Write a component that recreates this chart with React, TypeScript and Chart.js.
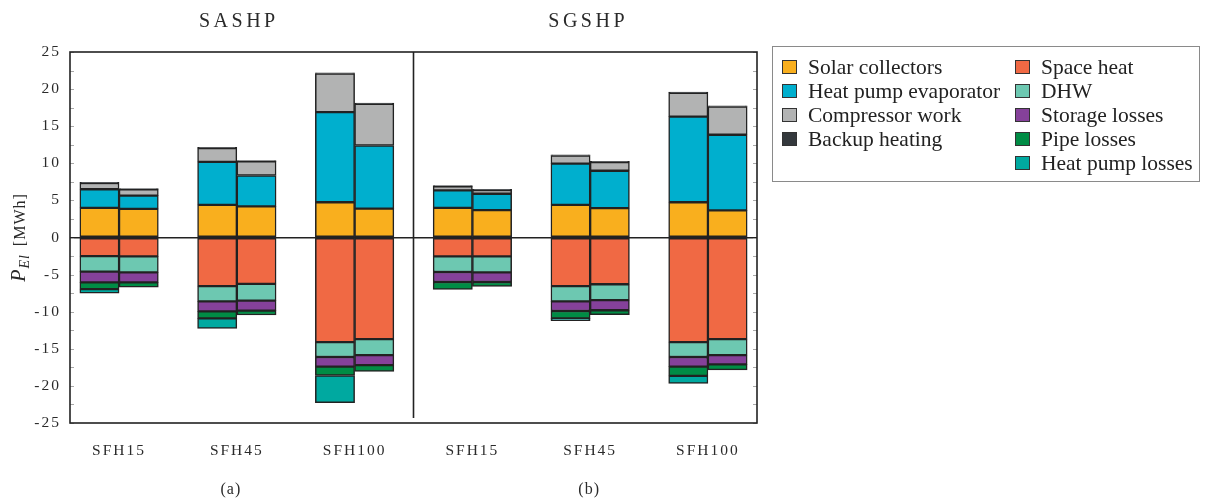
import React, { useEffect, useRef } from 'react';
import { Chart, registerables } from 'chart.js';

Chart.register(...registerables);

// ---------- data ----------
const groupLabels = ['SFH15', 'SFH45', 'SFH100', 'SFH15', 'SFH45', 'SFH100'];
const panelTitles = ['SASHP', 'SGSHP'];
const panelLabels = ['(a)', '(b)'];
// x slot of every bar (two bars per building, one empty slot between buildings)
const barSlots = [0, 1, 3, 4, 6, 7, 9, 10, 12, 13, 15, 16];
const groupCenters = [0.5, 3.5, 6.5, 9.5, 12.5, 15.5];
const dividerSlot = 8;
const xMin = -0.75;
const xMax = 16.75;
const yTickMin = -25;
const yTickMax = 25;
const yTickStep = 5;

// positive side (energy supplied), MWh
const solarCollectors = [4.0, 3.85, 4.4, 4.2, 4.75, 3.9, 4.0, 3.7, 4.4, 3.95, 4.75, 3.65];
const heatPumpEvaporator = [2.5, 1.8, 5.8, 4.15, 12.15, 8.5, 2.35, 2.2, 5.55, 5.05, 11.55, 10.2];
const compressorWork = [0.85, 0.85, 1.85, 1.9, 5.2, 5.6, 0.55, 0.5, 1.1, 1.15, 3.2, 3.8];
const backupHeating = [0.1, 0.1, 0.1, 0.1, 0.1, 0.1, 0.1, 0.1, 0.1, 0.1, 0.1, 0.1];
// negative side (energy demand / losses), MWh
const spaceHeat = [-2.5, -2.55, -6.55, -6.25, -14.1, -13.7, -2.55, -2.55, -6.55, -6.3, -14.1, -13.7];
const dhw = [-2.1, -2.15, -2.05, -2.25, -2.0, -2.15, -2.1, -2.15, -2.05, -2.15, -2.0, -2.15];
const storageLosses = [-1.45, -1.35, -1.35, -1.35, -1.3, -1.35, -1.35, -1.3, -1.3, -1.35, -1.3, -1.25];
const pipeLosses = [-0.9, -0.65, -0.95, -0.6, -1.2, -0.85, -1.0, -0.6, -1.0, -0.6, -1.25, -0.75];
const heatPumpLosses = [-0.55, null, -1.35, null, -3.65, null, null, null, -0.3, null, -1.0, null];

const seriesNames = [
  'Solar collectors', 'Heat pump evaporator', 'Compressor work', 'Backup heating',
  'Space heat', 'DHW', 'Storage losses', 'Pipe losses', 'Heat pump losses',
];
const seriesValues = [
  solarCollectors, heatPumpEvaporator, compressorWork, backupHeating,
  spaceHeat, dhw, storageLosses, pipeLosses, heatPumpLosses,
];
const seriesColors = [
  '#F9AF1E', '#00AFCE', '#B2B3B3', '#34393D',
  '#F06944', '#6DC8B1', '#85419A', '#008C45', '#00A9A0',
];
const legendColumns = [[0, 1, 2, 3], [4, 5, 6, 7, 8]];

const SERIF = '"Liberation Serif", "DejaVu Serif", serif';

const decorPlugin = {
  id: 'decor',
  beforeDraw(chart: any) {
    chart.ctx.letterSpacing = '2px';
  },
  beforeDatasetsDraw(chart: any) {
    chart.ctx.letterSpacing = '0px';
  },
  afterDraw(chart: any) {
    const { ctx, chartArea: a, scales } = chart;
    const x = scales.x;
    const y = scales.y;
    ctx.save();
    // minor ticks inside left and right borders
    ctx.strokeStyle = '#a8a8a8';
    ctx.lineWidth = 1;
    for (let v = yTickMin; v <= yTickMax; v += yTickStep / 2) {
      const py = Math.round(y.getPixelForValue(v)) + 0.5;
      ctx.beginPath();
      ctx.moveTo(a.left, py);
      ctx.lineTo(a.left + 4, py);
      ctx.moveTo(a.right - 4, py);
      ctx.lineTo(a.right, py);
      ctx.stroke();
    }
    // frame
    ctx.strokeStyle = '#222';
    ctx.lineWidth = 1.6;
    ctx.strokeRect(a.left, a.top, a.right - a.left, a.bottom - a.top);
    // divider between panels
    const dx = x.getPixelForValue(dividerSlot);
    ctx.beginPath();
    ctx.moveTo(dx, a.top);
    ctx.lineTo(dx, a.bottom - 5);
    ctx.stroke();

    // panel titles and sub-labels
    ctx.fillStyle = '#2a2a2a';
    ctx.textAlign = 'center';
    ctx.textBaseline = 'middle';
    ctx.letterSpacing = '3.5px';
    ctx.font = `20px ${SERIF}`;
    ctx.fillText(panelTitles[0], x.getPixelForValue(groupCenters[1]) + 2, 22);
    ctx.fillText(panelTitles[1], x.getPixelForValue(groupCenters[4]) - 2, 22);
    ctx.letterSpacing = '1px';
    ctx.font = `16px ${SERIF}`;
    ctx.fillText(panelLabels[0], x.getPixelForValue(groupCenters[1]) - 6, 490);
    ctx.fillText(panelLabels[1], x.getPixelForValue(groupCenters[4]) - 1, 490);
    ctx.letterSpacing = '0px';

    // y-axis title: P_El [MWh]
    const cy = y.getPixelForValue(0);
    ctx.translate(19, cy);
    ctx.rotate(-Math.PI / 2);
    ctx.textAlign = 'left';
    ctx.textBaseline = 'alphabetic';
    const fP = `italic 20px ${SERIF}`;
    const fSub = `italic 14px ${SERIF}`;
    const fUnit = `16px ${SERIF}`;
    ctx.letterSpacing = '1px';
    ctx.font = fP; const wP = ctx.measureText('P').width;
    ctx.font = fSub; const wS = ctx.measureText('El').width;
    ctx.font = fUnit; const wU = ctx.measureText('[MWh]').width;
    const gap = 8;
    const total = wP + wS + gap + wU;
    let cx = -total / 2;
    const base = 6;
    ctx.font = fP; ctx.fillText('P', cx, base); cx += wP;
    ctx.font = fSub; ctx.fillText('El', cx, base + 4); cx += wS + gap;
    ctx.font = fUnit; ctx.fillText('[MWh]', cx, base);
    ctx.restore();
  },
};

export default function App() {
  const canvasRef = useRef<HTMLCanvasElement | null>(null);

  useEffect(() => {
    if (!canvasRef.current) return;
    const datasets = seriesNames.map((name, si) => ({
      label: name,
      data: barSlots.map((slot, i) => ({ x: slot, y: seriesValues[si][i] })),
      backgroundColor: seriesColors[si],
      borderColor: '#222',
      borderWidth: 1.5,
      borderSkipped: false,
      barPercentage: 1,
      categoryPercentage: 1,
    }));

    const chart = new Chart(canvasRef.current, {
      type: 'bar',
      data: { datasets },
      plugins: [decorPlugin],
      options: {
        responsive: false,
        animation: false,
        devicePixelRatio: 1,
        layout: { padding: { left: 0, top: 52, right: 448, bottom: 0 } },
        plugins: { legend: { display: false }, title: { display: false }, tooltip: { enabled: false } },
        scales: {
          x: {
            type: 'linear',
            stacked: true,
            offset: false,
            min: xMin,
            max: xMax,
            grid: { display: false, drawTicks: false, offset: false },
            border: { display: false },
            afterBuildTicks: (scale: any) => {
              scale.ticks = groupCenters.map((v) => ({ value: v }));
              scale.min = xMin;
              scale.max = xMax;
            },
            afterFit: (scale: any) => {
              scale.height = 77;
            },
            ticks: {
              autoSkip: false,
              maxRotation: 0,
              padding: 19,
              color: '#2a2a2a',
              font: { family: SERIF, size: 15.5 },
              callback: (_v: any, i: number) => groupLabels[i],
            },
          },
          y: {
            type: 'linear',
            stacked: true,
            min: yTickMin,
            max: yTickMax,
            grid: {
              drawTicks: false,
              color: (c: any) => (c.tick && c.tick.value === 0 ? '#222' : 'rgba(0,0,0,0)'),
              lineWidth: 1.5,
            },
            border: { display: false },
            afterFit: (scale: any) => {
              scale.width = 70;
            },
            ticks: {
              stepSize: yTickStep,
              padding: 9,
              color: '#2a2a2a',
              font: { family: SERIF, size: 15.5 },
            },
          },
        },
      } as any,
    });
    return () => chart.destroy();
  }, []);

  return (
    <div style={{ position: 'absolute', left: 0, top: 0, width: 1205, height: 500, background: '#fff' }}>
      <canvas ref={canvasRef} width={1205} height={500} style={{ display: 'block', width: 1205, height: 500 }} />
      <div
        style={{
          position: 'absolute', left: 772, top: 46, width: 428, height: 136,
          border: '1px solid #8a8a8a', boxSizing: 'border-box', fontFamily: SERIF,
          fontSize: '21.5px', color: '#222',
        }}
      >
        {legendColumns.map((col, ci) =>
          col.map((si, ri) => (
            <div
              key={si}
              style={{
                position: 'absolute', left: ci === 0 ? 9 : 242, top: 8 + ri * 24, height: 24,
                display: 'flex', alignItems: 'center', whiteSpace: 'nowrap',
              }}
            >
              <span
                style={{
                  display: 'inline-block', width: 15, height: 14, background: seriesColors[si],
                  border: '1px solid #333', boxSizing: 'border-box', marginRight: 11,
                }}
              />
              <span>{seriesNames[si]}</span>
            </div>
          ))
        )}
      </div>
    </div>
  );
}
